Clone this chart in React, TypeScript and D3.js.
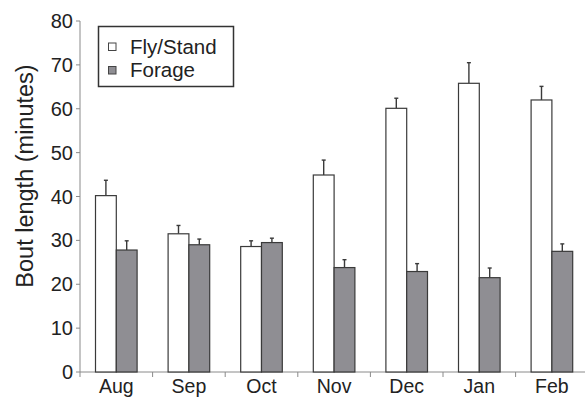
import React from "react";
import * as d3 from "d3";

const months = ["Aug", "Sep", "Oct", "Nov", "Dec", "Jan", "Feb"];
const seriesNames = ["Fly/Stand", "Forage"];
const flyStand = [40.2, 31.5, 28.6, 44.9, 60.1, 65.8, 62.0];
const flyStandErr = [3.5, 1.9, 1.3, 3.4, 2.3, 4.7, 3.1];
const forage = [27.8, 29.0, 29.5, 23.8, 22.9, 21.5, 27.5];
const forageErr = [2.1, 1.3, 1.0, 1.8, 1.8, 2.2, 1.7];
const yTicks = [0, 10, 20, 30, 40, 50, 60, 70, 80];

const W = 585;
const H = 401;
const left = 80;
const bandW = 72.6;
const top = 21;
const bottom = 372;

const fills = ["#ffffff", "#8f8e93"];
const stroke = "#3a3a3a";
const axisColor = "#8a8a8a";
const font = "'Liberation Sans', Arial, Helvetica, sans-serif";

export default function App() {
  const x = d3
    .scaleBand<string>()
    .domain(months)
    .range([left, left + bandW * months.length])
    .paddingInner(0)
    .paddingOuter(0);
  const xs = d3
    .scaleBand<string>()
    .domain(seriesNames)
    .range([15.5, bandW - 15.5])
    .padding(0);
  const y = d3.scaleLinear().domain([0, 80]).range([bottom, top]);

  const series = [
    { name: seriesNames[0], values: flyStand, errs: flyStandErr },
    { name: seriesNames[1], values: forage, errs: forageErr },
  ];

  return (
    <svg
      width={W}
      height={H}
      style={{ position: "absolute", left: 0, top: 0, background: "#fff" }}
      fontFamily={font}
    >
      {/* y axis */}
      <line x1={left} x2={left} y1={top} y2={bottom + 5} stroke={axisColor} strokeWidth={1} />
      {yTicks.map((t) => (
        <g key={t}>
          <line x1={left - 4} x2={left} y1={y(t)} y2={y(t)} stroke={axisColor} strokeWidth={1} />
          <text
            x={left - 7}
            y={y(t)}
            dy="0.35em"
            textAnchor="end"
            fontSize={20}
            fill="#222"
          >
            {t}
          </text>
        </g>
      ))}
      <text
        transform={`translate(33, 176) rotate(-90)`}
        textAnchor="middle"
        fontSize={23.5}
        fill="#222"
      >
        Bout length (minutes)
      </text>

      {/* x axis */}
      <line x1={left} x2={W} y1={bottom} y2={bottom} stroke={axisColor} strokeWidth={1} />
      {months.map((m) => (
        <g key={m}>
          <line
            x1={(x(m) as number) + bandW}
            x2={(x(m) as number) + bandW}
            y1={bottom}
            y2={bottom + 5}
            stroke={axisColor}
            strokeWidth={1}
          />
          <text
            x={(x(m) as number) + bandW / 2}
            y={393}
            textAnchor="middle"
            fontSize={19.5}
            fill="#222"
          >
            {m}
          </text>
        </g>
      ))}

      {/* bars with error bars */}
      {series.map((s, si) =>
        months.map((m, i) => {
          const bx = (x(m) as number) + (xs(s.name) as number);
          const bw = xs.bandwidth();
          const cx = bx + bw / 2;
          const yTop = y(s.values[i]);
          const yErr = y(s.values[i] + s.errs[i]);
          return (
            <g key={`${s.name}-${m}`}>
              <line x1={cx} x2={cx} y1={yTop} y2={yErr} stroke={stroke} strokeWidth={1.4} />
              <line x1={cx - 2} x2={cx + 2} y1={yErr} y2={yErr} stroke={stroke} strokeWidth={1.4} />
              <rect
                x={bx}
                y={yTop}
                width={bw}
                height={bottom - yTop}
                fill={fills[si]}
                stroke={stroke}
                strokeWidth={1.2}
              />
            </g>
          );
        })
      )}

      {/* legend */}
      <rect x={98.5} y={26.5} width={135} height={60} fill="#fff" stroke="#333" strokeWidth={1.5} />
      {series.map((s, si) => (
        <g key={`leg-${s.name}`}>
          <rect
            x={108.5}
            y={43 + si * 23.5}
            width={7.5}
            height={7.5}
            fill={fills[si]}
            stroke="#444"
            strokeWidth={1}
          />
          <text x={130} y={53.5 + si * 23} fontSize={20.5} fill="#222">
            {s.name}
          </text>
        </g>
      ))}
    </svg>
  );
}
